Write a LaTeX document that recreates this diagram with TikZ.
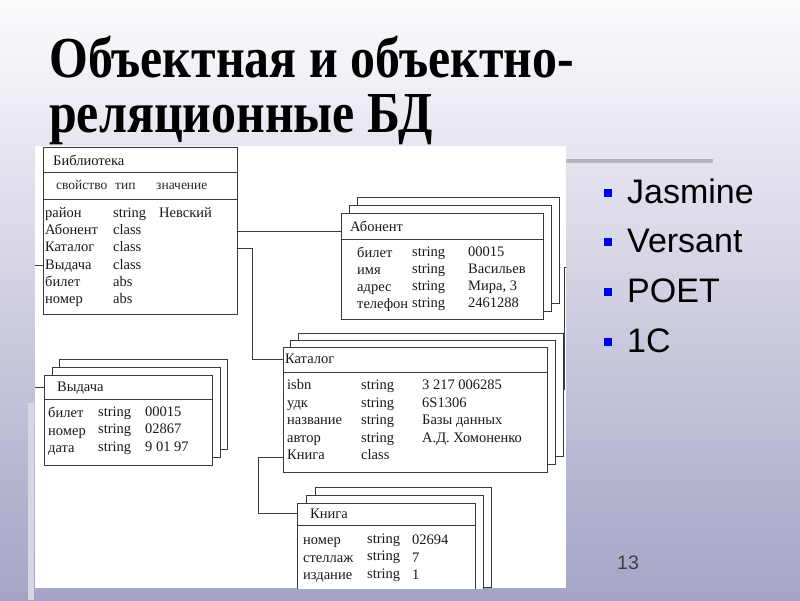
\documentclass[tikz,border=0pt]{standalone}
\usepackage{fontspec}
\setmainfont{Liberation Serif}
\newfontfamily\sansf{Liberation Sans}
\definecolor{bgtop}{HTML}{FBFBFD}
\definecolor{bgbot}{HTML}{A4A4C6}
\definecolor{ln}{HTML}{3A3A3A}
\definecolor{bul}{HTML}{0000F0}
\definecolor{rule}{HTML}{B4B4BE}
\begin{document}
\begin{tikzpicture}[x=1pt,y=-1pt,
  box/.style={draw=ln, line width=0.9pt, fill=white, anchor=north west, inner sep=0pt, outer sep=0pt},
  t/.style={anchor=base west, inner sep=0pt, font=\fontsize{14.5}{17}\selectfont, text=black!90},
  th/.style={anchor=base west, inner sep=0pt, font=\fontsize{13.5}{16}\selectfont, text=black!85},
  conn/.style={draw=ln, line width=0.9pt},
  titletext/.style={anchor=base west, inner sep=0pt, font=\fontsize{58}{64}\selectfont\bfseries},
  bullettext/.style={anchor=base west, inner sep=0pt, font=\sansf\fontsize{34}{40}\selectfont},
  bulletsq/.style={fill=bul, minimum size=8pt, inner sep=0pt},
]
\useasboundingbox (0,0) rectangle (800,600);
\shade[top color=bgtop, bottom color=bgbot] (0,0) rectangle (800,600);
% decorations
\fill[rule] (566,159) rectangle (713,163);
\fill[white!55!bgbot] (28,403) rectangle (34,600);
% title
\node[titletext] (title1) at (49,77) {\scalebox{0.86}[1]{Объектная и объектно-}};
\node[titletext] (title2) at (49,132) {\scalebox{0.86}[1]{реляционные БД}};
% bullets
\foreach \y/\s [count=\i] in {203/Jasmine, 252/Versant, 302/POET, 352/1C}{
  \node[bulletsq] (sq\i) at (608,\y-10) {};
  \node[bullettext] (bl\i) at (627,\y) {\s};
}
\node[anchor=base west, inner sep=0pt, font=\sansf\fontsize{19.5}{22}\selectfont, text=black!75] (pnum) at (617,569) {13};

\begin{scope}
\clip (35,146) rectangle (566,588);
\fill[white] (35,146) rectangle (566,588);

% ---------- Библиотека
\node[box, minimum width=194pt, minimum height=167pt] (bib) at (43,147.5) {};
\draw[conn] (bib.west |- 0,172) -- (bib.east |- 0,172);
\draw[conn] (bib.west |- 0,199) -- (bib.east |- 0,199);
\node[t] (bibtitle) at (53,165.5) {Библиотека};
\node[th] (bibh1) at (56,189.5) {свойство};
\node[th] (bibh2) at (115,189.5) {тип};
\node[th] (bibh3) at (156,189.5) {значение};
\foreach \y/\a/\b/\c [count=\i] in {217.5/район/string/Невский, 234.7/Абонент/class/, 251.9/Каталог/class/, 269.1/Выдача/class/, 286.3/билет/abs/, 303.5/номер/abs/}{
  \node[t] (biba\i) at (45,\y) {\a};
  \node[t] (bibb\i) at (113,\y) {\b};
  \node[t] (bibc\i) at (159,\y) {\c};
}

% ---------- Абонент
\node[box, minimum width=202pt, minimum height=106pt] (abon3) at (357,197) {};
\node[box, minimum width=202pt, minimum height=106pt] (abon2) at (349,205) {};
\node[box, minimum width=202pt, minimum height=106pt] (abon) at (341,213) {};
\draw[conn] (abon.west |- 0,239) -- (abon.east |- 0,239);
\node[t] (abontitle) at (350,231.5) {Абонент};
\foreach \y/\a/\b/\c [count=\i] in {257.5/билет/string/00015, 274.5/имя/string/Васильев, 291.5/адрес/string/{Мира, 3}, 308.5/телефон/string/2461288}{
  \node[t] (abona\i) at (357,\y) {\a};
  \node[t] (abonb\i) at (412,\y-1.5) {\b};
  \node[t] (abonc\i) at (468,\y-1.5) {\c};
}

% ---------- Каталог
\node[box, minimum width=265pt, minimum height=123pt] (kat3) at (298,333) {};
\node[box, minimum width=265pt, minimum height=124pt] (kat2) at (290,340) {};
\node[box, minimum width=264pt, minimum height=125pt] (kat) at (283,347) {};
\draw[conn] (kat.west |- 0,372) -- (kat.east |- 0,372);
\node[t] (kattitle) at (285,363.5) {Каталог};
\foreach \y/\a/\b/\c [count=\i] in {389.5/isbn/string/3 217 006285, 407/удк/string/6S1306, 424.5/название/string/Базы данных, 442/автор/string/А.Д. Хомоненко, 459.5/Книга/class/}{
  \node[t] (kata\i) at (287,\y) {\a};
  \node[t] (katb\i) at (361,\y) {\b};
  \node[t] (katc\i) at (422,\y) {\c};
}

% ---------- Выдача
\node[box, minimum width=168pt, minimum height=90pt] (vyd3) at (59,359) {};
\node[box, minimum width=168pt, minimum height=90pt] (vyd2) at (52,367) {};
\node[box, minimum width=168pt, minimum height=90pt] (vyd) at (44,375) {};
\draw[conn] (vyd.west |- 0,399) -- (vyd.east |- 0,399);
\node[t] (vydtitle) at (57,391.5) {Выдача};
\foreach \y/\a/\b/\c [count=\i] in {417.5/билет/string/00015, 435/номер/string/02867, 452.5/дата/string/9 01 97}{
  \node[t] (vyda\i) at (48,\y) {\a};
  \node[t] (vydb\i) at (98,\y-1.5) {\b};
  \node[t] (vydc\i) at (145,\y-1.5) {\c};
}

% ---------- Книга
\node[box, minimum width=176pt, minimum height=100pt] (kn3) at (315,487) {};
\node[box, minimum width=177pt, minimum height=100pt] (kn2) at (306,495) {};
\node[box, minimum width=178pt, minimum height=100pt] (kn) at (297,503) {};
\draw[conn] (kn.west |- 0,525) -- (kn.east |- 0,525);
\node[t] (kntitle) at (310,518.5) {Книга};
\foreach \y/\a/\b/\c [count=\i] in {544.5/номер/string/02694, 562/стеллаж/string/7, 579.5/издание/string/1}{
  \node[t] (kna\i) at (303,\y) {\a};
  \node[t] (knb\i) at (367,\y-1.5) {\b};
  \node[t] (knc\i) at (412,\y) {\c};
}

% ---------- connectors
\draw[conn] (bib.east |- 0,231) -- (abon.west |- 0,231);
\draw[conn] (bib.east |- 0,248) -- (252,248) |- (kat.west |- 0,359);
\draw[conn] (bib.west |- 0,265.5) -- (33,265.5) |- (vyd.west |- 0,387);
\draw[conn] (kat.west |- 0,457) -- (258,457) |- (kn.west |- 0,513);
\coordinate (edgeA) at (568,267);
\coordinate (edgeB) at (564,390);
\draw[conn] (edgeA) -- (564,267) -- (edgeB);
\end{scope}
\end{tikzpicture}
\end{document}
